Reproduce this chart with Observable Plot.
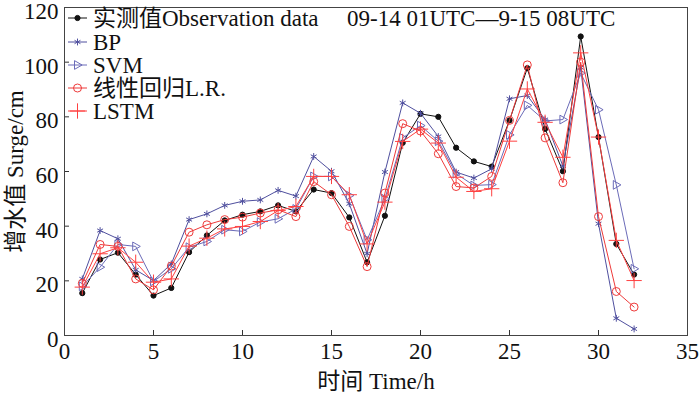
<!DOCTYPE html>
<html><head><meta charset="utf-8">
<script src="https://cdn.jsdelivr.net/npm/d3@7"></script>
<script src="https://cdn.jsdelivr.net/npm/@observablehq/plot@0.6"></script>
<style>
body{margin:0;background:#fff;}
#wrap{position:relative;width:700px;height:395px;overflow:hidden;}
#wrap svg{position:absolute;left:0;top:0;}
</style></head><body><div id="wrap"></div>
<script>
// ---- data ----
const hours = [1,2,3,4,5,6,7,8,9,10,11,12,13,14,15,16,17,18,19,20,21,22,23,24,25,26,27,28,29,30,31,32];
const obs  = [15.5,27.8,30.3,22.3,14.6,17.4,30.5,36.6,42.1,44.2,45.4,47.6,45.4,53.4,52.1,43.2,26.8,43.8,70.5,81.1,80.0,68.7,63.7,61.8,78.7,97.8,75.6,60.1,109.4,72.6,33.5,22.3];
const bp   = [20.7,38.4,35.4,24.0,20.1,26.2,42.4,44.5,47.6,49.1,49.6,53.1,51.0,65.5,60.1,48.2,29.9,59.8,85.1,81.3,72.8,59.8,57.6,61.0,86.6,87.8,79.0,62.0,98.0,40.9,6.3,2.4];
const svm  = [18.0,25.0,33.3,32.6,19.8,24.4,32.3,34.4,38.7,38.1,41.5,42.7,46.3,58.2,58.2,51.2,35.0,50.0,72.3,76.8,71.1,59.2,54.9,55.2,73.4,84.2,78.5,79.0,96.0,82.6,55.1,24.4];
const lr   = [19.1,33.3,32.6,20.7,16.7,25.4,37.8,40.5,42.4,43.3,44.8,46.0,43.5,56.3,51.5,39.9,25.2,52.1,77.5,74.8,66.5,54.5,54.0,58.2,78.7,99.0,72.3,55.9,100.0,43.5,16.1,10.4];
const lstm = [17.7,29.9,32.1,26.8,19.5,20.7,32.7,35.6,39.0,39.9,41.7,45.7,47.2,58.2,58.2,51.5,33.5,48.8,71.0,75.5,70.4,57.9,52.7,53.7,71.1,90.2,78.0,65.2,103.4,72.6,34.8,20.1];
const seriesNames = ["实测值Observation data","BP","SVM","线性回归L.R.","LSTM"];
const xTicks = [0,5,10,15,20,25,30,35];
const yTicks = [0,20,40,60,80,100,120];
const titleText = "09-14 01UTC\u20149-15 08UTC";
const xLabel = "时间 Time/h";
const yLabel = "增水值 Surge/cm";

// ---- styles ----
const W = 700, H = 395, mt = 7, mb = 60, ml = 64, mr = 13;
const plotW = W - ml - mr, plotH = H - mt - mb;
const FONT = "'Liberation Serif','Times New Roman','Noto Sans CJK SC',serif";

// right-pointing triangle symbol
const triRight = {
  draw(ctx, size) {
    const r = Math.sqrt(size / Math.PI);
    ctx.moveTo(r, 0);
    ctx.lineTo(-r * 0.65, -r * 0.95);
    ctx.lineTo(-r * 0.65, r * 0.95);
    ctx.closePath();
  }
};

const styles = [
  {color: "#111111", symbol: "circle", r: 2.6, filled: true, d3sym: d3.symbolCircle},
  {color: "#4f4f9e", symbol: "asterisk", r: 3.2, filled: false, d3sym: d3.symbolAsterisk},
  {color: "#6b6bb8", symbol: triRight, r: 4.6, filled: false, d3sym: triRight},
  {color: "#ee3a3a", symbol: "circle", r: 4.0, filled: false, d3sym: d3.symbolCircle},
  {color: "#ff4040", symbol: "plus", r: 5.0, filled: false, d3sym: d3.symbolPlus}
];
const valuesList = [obs, bp, svm, lr, lstm];

const marks = [];
// inward ticks
marks.push(Plot.ruleX(xTicks.slice(1, -1), {x: d => d, insetTop: plotH - 5, stroke: "#333", strokeWidth: 1}));
marks.push(Plot.ruleY(yTicks.slice(1, -1), {y: d => d, insetRight: plotW - 5, stroke: "#333", strokeWidth: 1}));

valuesList.forEach((vals, k) => {
  const st = styles[k];
  const rows = vals.map((v, i) => ({hour: hours[i], value: v}));
  marks.push(Plot.line(rows, {x: "hour", y: "value", stroke: st.color, strokeWidth: 1}));
  marks.push(Plot.dot(rows, {
    x: "hour", y: "value", symbol: st.symbol, r: st.r,
    stroke: st.color, strokeWidth: 1,
    fill: st.filled ? st.color : "none"
  }));
});

marks.push(Plot.frame({stroke: "#444", strokeWidth: 1}));
marks.push(Plot.axisX(xTicks, {tickSize: 0, tickPadding: 7, fontSize: 23, label: xLabel, labelAnchor: "center", labelOffset: 53, labelArrow: "none"}));
marks.push(Plot.axisY(yTicks, {tickSize: 0, tickPadding: 6, dy: 4, fontSize: 23, label: yLabel, labelAnchor: "center", labelOffset: 58, labelArrow: "none"}));

const chart = Plot.plot({
  width: W, height: H,
  marginTop: mt, marginBottom: mb, marginLeft: ml, marginRight: mr,
  x: {domain: [0, 35]},
  y: {domain: [0, 120]},
  style: {fontFamily: FONT, fontSize: "23px", color: "#111", background: "#fff"},
  marks
});
document.getElementById("wrap").appendChild(chart);

// ---- legend overlay ----
const leg = d3.select("#wrap").append("svg")
  .attr("width", W).attr("height", H)
  .style("pointer-events", "none")
  .style("font-family", FONT);
const rowY = [18, 42, 65, 88, 111];
seriesNames.forEach((name, k) => {
  const st = styles[k];
  const g = leg.append("g").attr("transform", `translate(0,${rowY[k]})`);
  g.append("line").attr("x1", 68).attr("x2", 87).attr("y1", 0).attr("y2", 0)
    .attr("stroke", st.color).attr("stroke-width", 1);
  g.append("path").attr("transform", "translate(77.5,0)")
    .attr("d", d3.symbol().type(st.d3sym).size(Math.PI * st.r * st.r)())
    .attr("fill", st.filled ? st.color : "none")
    .attr("stroke", st.color).attr("stroke-width", 1);
  g.append("text").attr("x", 93).attr("y", 0).attr("dy", "0.35em")
    .attr("font-size", 23).attr("fill", "#111").text(name);
});
leg.append("text").attr("x", 347).attr("y", rowY[0]).attr("dy", "0.35em")
  .attr("font-size", 23).attr("fill", "#111").text(titleText);
</script></body></html>
